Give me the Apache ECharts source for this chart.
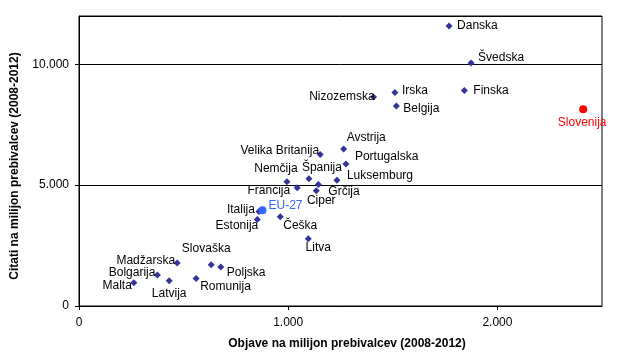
<!DOCTYPE html>
<html>
<head>
<meta charset="utf-8">
<script src="https://cdn.jsdelivr.net/npm/echarts@6/dist/echarts.min.js"></script>
<style>html,body{margin:0;padding:0;background:#fff;}#c{width:624px;height:361px;}</style>
</head>
<body>
<div id="c"></div>
<script>
// Data
var countries = ['Danska','Švedska','Irska','Finska','Belgija','Slovenija','Nizozemska','Avstrija','Velika Britanija','Portugalska','Nemčija','Španija','Luksemburg','Francija','Grčija','Ciper','Italija','EU-27','Estonija','Češka','Litva','Madžarska','Slovaška','Poljska','Bolgarija','Malta','Latvija','Romunija'];
var objave = [1769,1874,1510,1842,1517,2410,1408,1265,1153,1276,994,1099,1233,1043,1144,1134,860,877,852,962,1096,469,632,678,375,262,431,560];
var citati = [11583,10054,8830,8913,8277,8140,8649,6500,6269,5880,5137,5261,5207,4890,5028,4765,3913,3967,3583,3690,2781,1777,1707,1612,1281,963,1046,1143];
var xTicks = [0,1000,2000];
var yTicks = [0,5000,10000];

// Label placement (dx, dy in px from point; align)
var labelPlace = {
 'Danska':[8,0,'left'],'Švedska':[7,-5,'left'],'Irska':[7,-2,'left'],'Finska':[9,0,'left'],
 'Belgija':[7,3,'left'],'Slovenija':[-1,13,'center'],'Nizozemska':[1,0,'right'],
 'Avstrija':[3,-11,'left'],'Velika Britanija':[-1,-4,'right'],'Portugalska':[9,-7,'left'],
 'Nemčija':[-11,-13,'center'],'Španija':[13,-11,'center'],'Luksemburg':[10,-4,'left'],
 'Francija':[-7,3,'right'],'Grčija':[10,7,'left'],'Ciper':[5,10,'center'],
 'Italija':[-4,-2,'right'],'EU-27':[6,-4,'left'],'Estonija':[1,6,'right'],
 'Češka':[20,9,'center'],'Litva':[10,9,'center'],'Madžarska':[-2,-2,'right'],
 'Slovaška':[-5,-16,'center'],'Poljska':[6,6,'left'],'Bolgarija':[-2,-2,'right'],
 'Malta':[-2,3,'right'],'Latvija':[0,13,'center'],'Romunija':[4,8,'left']
};

function fmt(v){ return String(v).replace(/\B(?=(\d{3})+(?!\d))/g,'.'); }

var data = countries.map(function(n,i){
  var p = labelPlace[n];
  var color = '#333399', tcol = '#000000', sym = 'diamond', size = 7;
  if (n === 'Slovenija') { color = '#FF0000'; tcol = '#FF0000'; sym = 'circle'; size = 8; }
  if (n === 'EU-27') { color = '#3366FF'; tcol = '#3366FF'; sym = 'circle'; size = 8; }
  return {
    name: n, value: [objave[i], citati[i]], symbol: sym, symbolSize: size,
    itemStyle: {color: color, opacity: 1},
    label: {show: true, formatter: n, position: [size/2 + p[0], size/2 + p[1]], align: p[2], verticalAlign: 'middle',
            color: tcol, opacity: 1, textBorderWidth: 0, fontSize: 12, fontFamily: 'Liberation Sans, Arial, sans-serif'}
  };
});

var chart = echarts.init(document.getElementById('c'), null, {renderer:'canvas'});
chart.setOption({
  animation: false,
  textStyle: {fontFamily: 'Liberation Sans, Arial, sans-serif'},
  grid: {left: 79, right: 22, top: 16, bottom: 55, show: true, borderColor: '#000', borderWidth: 1, backgroundColor: '#fff'},
  xAxis: {
    type: 'value', min: 0, max: 2500, interval: 1000,
    name: 'Objave na milijon prebivalcev (2008-2012)', nameLocation: 'middle', nameGap: 32,
    nameTextStyle: {fontWeight: 'bold', fontSize: 12, color: '#000', fontFamily: 'Liberation Sans, Arial, sans-serif', padding: [0,0,0,13]},
    axisLine: {show: true, lineStyle: {color: '#000', width: 1}},
    axisTick: {show: true, length: 4, lineStyle: {color: '#000'}},
    axisLabel: {margin: 11, fontSize: 12, color: '#000', showMaxLabel: false,
      formatter: function(v){ return xTicks.indexOf(v) >= 0 ? fmt(v) : ''; }},
    splitLine: {show: false}
  },
  yAxis: {
    type: 'value', min: 0, max: 12000, interval: 5000,
    name: 'Citati na milijon prebivalcev (2008-2012)', nameLocation: 'middle', nameGap: 58,
    nameTextStyle: {fontWeight: 'bold', fontSize: 12, color: '#000', fontFamily: 'Liberation Sans, Arial, sans-serif', padding: [0,10,0,0]},
    axisLine: {show: true, lineStyle: {color: '#000', width: 1}},
    axisTick: {show: true, length: 4, lineStyle: {color: '#000'}},
    axisLabel: {margin: 10, fontSize: 12, color: '#000', showMaxLabel: false,
      formatter: function(v){ return yTicks.indexOf(v) >= 0 ? fmt(v) : ''; }},
    splitLine: {show: true, lineStyle: {color: '#000', width: 1}}
  },
  series: [{
    type: 'scatter', data: data,
    itemStyle: {opacity: 1},
    emphasis: {disabled: true}
  }]
});
</script>
</body>
</html>
